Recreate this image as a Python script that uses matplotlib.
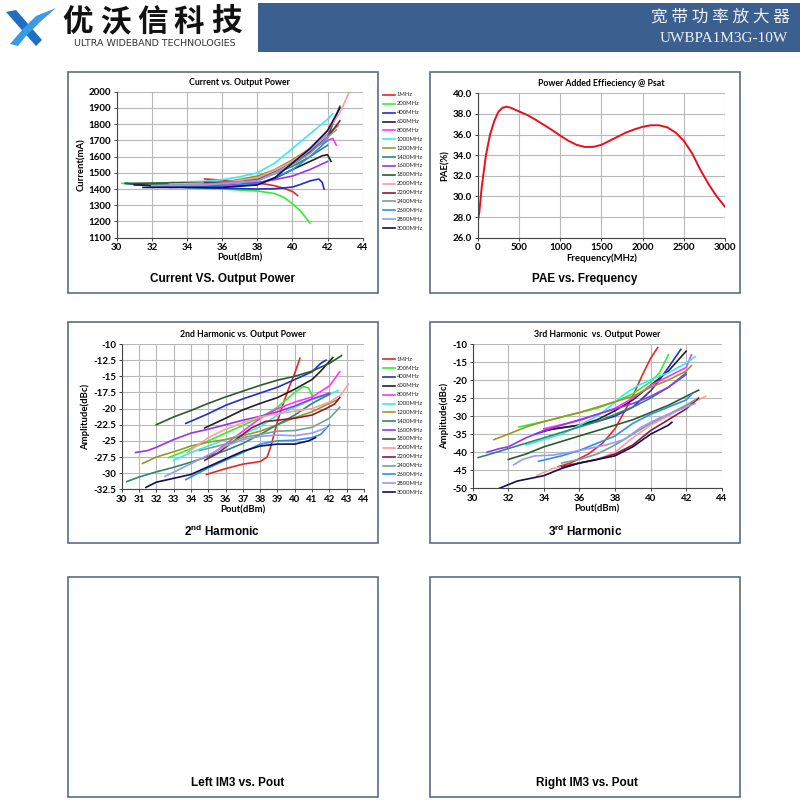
import numpy as np
import matplotlib.pyplot as plt
from matplotlib.patches import Rectangle, Polygon

plt.rcParams['font.family'] = ['Lato', 'DejaVu Sans']

freqs = ['1MHz', '200MHz', '400MHz', '600MHz', '800MHz', '1000MHz', '1200MHz', '1400MHz',
         '1600MHz', '1800MHz', '2000MHz', '2200MHz', '2400MHz', '2600MHz', '2800MHz', '3000MHz']
colors = ['#e8281e', '#33ee33', '#1f2fcc', '#222222', '#ff33ff', '#33eeee', '#999922', '#2a8a6a',
          '#9933ee', '#2d5a2d', '#ff9e9e', '#8b1a3a', '#7a9e95', '#2e8fef', '#9a9af0', '#101050']

# Current vs. Output Power
cur_pout = [
    [35, 36, 37, 38, 38.5, 39, 39.5, 40, 40.3],
    [30.3, 32, 34, 36, 38, 39, 39.5, 40, 40.5, 41],
    [30.5, 32, 34, 36, 38, 39, 40, 40.5, 41, 41.5, 41.7, 41.8],
    [31, 33, 36, 38, 39, 40, 41, 41.7, 42, 42.2],
    [33, 36, 38, 39, 40, 41, 42, 42.3, 42.5],
    [33, 35, 36, 37, 38, 39, 40, 41, 42, 42.3],
    [32, 34, 36, 38, 39, 40, 41, 42, 42.6],
    [32, 34, 36, 38, 39, 40, 41, 42],
    [32, 34, 36, 38, 39, 40, 41, 42],
    [30.5, 33, 36, 38, 39, 40, 41, 42, 42.7],
    [33, 36, 38, 39, 40, 41, 42, 42.7, 43.2],
    [35, 37, 38, 39, 40, 41, 42, 42.7],
    [32, 35, 38, 39, 40, 41, 42, 42.5],
    [33, 35, 38, 39, 40, 41, 42],
    [32, 35, 38, 39, 40, 41, 42],
    [31.5, 33, 36, 38, 39, 40, 41, 42, 42.7],
]
cur_ma = [
    [1462, 1455, 1445, 1435, 1430, 1420, 1405, 1385, 1360],
    [1435, 1422, 1410, 1400, 1388, 1372, 1350, 1310, 1260, 1190],
    [1435, 1420, 1410, 1405, 1400, 1402, 1412, 1430, 1450, 1462, 1440, 1400],
    [1425, 1420, 1415, 1430, 1465, 1520, 1570, 1605, 1612, 1570],
    [1430, 1428, 1455, 1505, 1570, 1640, 1700, 1712, 1670],
    [1440, 1448, 1458, 1475, 1500, 1560, 1650, 1740, 1830, 1865],
    [1430, 1433, 1440, 1480, 1520, 1580, 1650, 1740, 1790],
    [1430, 1430, 1432, 1460, 1495, 1540, 1600, 1670],
    [1420, 1418, 1420, 1440, 1458, 1480, 1520, 1570],
    [1435, 1438, 1440, 1470, 1510, 1560, 1630, 1720, 1910],
    [1430, 1440, 1470, 1515, 1570, 1650, 1760, 1870, 1990],
    [1440, 1442, 1452, 1500, 1560, 1630, 1720, 1820],
    [1420, 1430, 1450, 1495, 1550, 1620, 1720, 1765],
    [1410, 1412, 1430, 1470, 1520, 1600, 1700],
    [1420, 1425, 1450, 1500, 1560, 1640, 1740],
    [1410, 1410, 1410, 1425, 1470, 1560, 1650, 1760, 1900],
]

# PAE @ Psat
pae_freq = [0, 20, 50, 100, 150, 200, 250, 300, 350, 400, 500, 600, 700, 800, 900, 1000, 1100, 1200,
            1300, 1400, 1500, 1600, 1700, 1800, 1900, 2000, 2100, 2200, 2300, 2400, 2500, 2600, 2700,
            2800, 2900, 3000]
pae = [27.5, 28.5, 31.0, 34.0, 36.0, 37.3, 38.2, 38.6, 38.7, 38.6, 38.25, 37.9, 37.45, 36.95, 36.45,
       35.9, 35.4, 35.0, 34.8, 34.8, 35.0, 35.4, 35.8, 36.2, 36.5, 36.75, 36.9, 36.9, 36.7, 36.2,
       35.4, 34.2, 32.6, 31.2, 30.0, 29.0]

# 2nd harmonic
h2_pout = [
    [34.9, 36, 37, 38, 38.4, 38.6, 38.8, 39, 39.3, 39.7, 40, 40.3],
    [32.7, 34, 35, 36, 37, 38, 39, 40, 40.5, 40.8, 41],
    [33.7, 35, 36, 37, 38, 39, 40, 41, 41.5, 41.8],
    [34.8, 36, 37, 38, 39, 40, 41, 41.5, 42.2],
    [35, 36, 37, 38, 39, 40, 41, 42, 42.6],
    [33, 34, 35, 36, 37, 38, 39, 40, 41, 42, 42.5],
    [31.2, 32, 33, 34, 35, 36, 37, 38, 39, 40, 41, 42, 42.5],
    [30.3, 31, 32, 33, 34, 35, 36, 37, 38, 39, 40, 41, 42],
    [30.8, 31.5, 32, 33, 34, 35, 36, 37, 38, 39, 40, 41, 42],
    [32, 33, 34, 35, 36, 37, 38, 39, 40, 41, 42, 42.7],
    [33.8, 35, 36, 37, 38, 39, 40, 41, 42, 42.7, 43.1],
    [34.8, 35.5, 36.5, 37.5, 38.3, 39, 40, 41, 41.8, 42.3, 42.6],
    [34.5, 36, 37, 38, 39, 40, 41, 42, 42.6],
    [33.7, 35, 36, 37, 38, 39, 40, 41, 41.5, 42],
    [32.5, 33.5, 35, 36, 37, 38, 39, 40, 41, 41.8],
    [31.4, 32, 33, 34, 35, 36, 37, 38, 39, 40, 40.8, 41.2],
]
h2_dbc = [
    [-30.2, -29.3, -28.6, -28.2, -27.5, -26, -24, -22, -19.5, -16.5, -14.5, -12.2],
    [-27.6, -26.2, -25, -23.8, -22.6, -21.4, -19.8, -17.5, -16.6, -16.8, -18],
    [-22.3, -20.8, -19.5, -18.5, -17.6, -16.7, -15.5, -14.3, -13, -12.5],
    [-23, -21.5, -20.2, -19.2, -18.3, -17, -15.5, -14.2, -12.1],
    [-27.5, -25.5, -23.5, -21.5, -20, -19, -18.2, -16.5, -14.3],
    [-28, -26.8, -25.8, -24.8, -24, -22.8, -21, -19.8, -18.6, -17.8, -17.2],
    [-28.5, -27.5, -26.7, -25.8, -25.2, -24.8, -24.2, -23.5, -22.5, -21.4, -20.5, -19.2, -18.6],
    [-31.3, -30.6, -29.8, -29.1, -28.3, -27.4, -26.5, -25.4, -24, -22.5, -21, -19.2, -17.8],
    [-26.8, -26.5, -26, -24.8, -23.8, -23.2, -22.5, -21.8, -21.2, -20.5, -19.6, -18.5, -17.6],
    [-22.5, -21.3, -20.3, -19.2, -18.2, -17.3, -16.4, -15.6, -15, -14.2, -13, -11.8],
    [-26.8, -24.5, -23.2, -22.2, -21.3, -20.8, -20.4, -20, -19, -17.8, -16.2],
    [-28, -27, -25, -23, -22, -21.8, -21.5, -21, -20, -19.3, -18.3],
    [-26.5, -25.5, -24.5, -24, -23.5, -23.4, -22.9, -21.5, -19.8],
    [-31, -29.2, -28, -26.8, -25.5, -25, -24.9, -24.5, -24, -22.5],
    [-30.5, -29.2, -27.2, -25.8, -24.8, -24.3, -24.1, -24.2, -23.8, -23],
    [-32.2, -31.4, -30.8, -30.2, -29, -27.8, -26.6, -25.8, -25.5, -25.5, -25, -24.5],
]

# 3rd harmonic
h3_pout = [
    [34.8, 35.5, 36.5, 37.3, 38, 38.5, 39, 39.5, 40, 40.4],
    [32.6, 34, 36, 37, 38, 39, 40, 40.5, 41],
    [33.5, 34.5, 36, 37, 38, 39, 40, 40.5, 41, 41.7],
    [34, 36, 37, 38, 39, 40, 41, 42],
    [34, 36, 38, 39, 40, 41, 42, 42.3],
    [33, 34, 35, 36, 37, 37.8, 38.5, 39.3, 40.2, 41, 42, 42.5],
    [31.2, 32, 33, 34, 36, 38, 39, 40, 41, 42, 42.3],
    [30.3, 31, 32, 33, 34, 35, 36, 37, 38, 39, 40, 41, 42],
    [30.8, 31.5, 32, 33, 34, 35, 36, 37, 38, 39, 40, 41, 42],
    [32, 33, 34, 35, 36, 37, 38, 39, 40, 41, 42, 42.7],
    [33.6, 34.5, 35.5, 37, 38, 39, 40, 41, 42, 43.1],
    [35, 36, 37, 38, 39, 40, 41, 42, 42.7],
    [35, 36, 37, 38, 39, 40, 41, 42, 42.5],
    [33.7, 35, 36, 37, 38, 39, 40, 41, 42, 42.3],
    [32.3, 32.8, 33.5, 34.5, 35.5, 36.5, 37.5, 38.5, 39.5, 40.5, 41.5, 42.5],
    [31.5, 32.5, 34, 35, 36, 37, 38, 39, 40, 41, 41.2],
]
h3_dbc = [
    [-44, -43, -40.5, -37.5, -33.5, -29, -24.5, -19, -14, -11],
    [-33, -31.5, -29, -27.8, -26, -23.8, -20.5, -18, -13],
    [-35, -33.5, -32.5, -31.5, -30, -27.5, -23, -20, -16.5, -11.5],
    [-34, -32.5, -31, -28.5, -25.5, -21.5, -17.5, -12],
    [-33.5, -31.2, -27.8, -25, -21.5, -19, -16.5, -13],
    [-38, -36.5, -35, -32.5, -30, -27, -24, -21.5, -19.5, -18, -15.3, -13.5],
    [-36.5, -35, -33, -31.5, -29, -26, -24.5, -22, -20, -17.5, -16],
    [-41.5, -40.5, -39, -37.5, -36, -34.5, -33, -31.5, -29.5, -27.5, -25, -22, -18.5],
    [-40, -39, -38.5, -36, -34, -32.5, -31, -29.5, -28, -26.5, -24.5, -22, -18],
    [-42, -40.5, -38.5, -37, -35.5, -34, -32.5, -31, -29, -27, -24.5, -22.8],
    [-46.5, -44.5, -43.5, -42, -40, -36, -32.5, -30, -27, -24.5],
    [-44, -43, -42, -40.5, -38, -34, -31, -28, -25],
    [-43, -42, -40.5, -38, -35, -32, -29.5, -27, -25.5],
    [-42.5, -41, -39.5, -37.5, -35.5, -32, -29.5, -27.5, -25.5, -24],
    [-43.5, -42, -41, -40.8, -40, -39, -38, -36.5, -33, -30.5, -28.5, -26.5],
    [-50, -48, -46.5, -44.5, -43, -42, -41, -38.5, -35, -32.5, -31.7],
]

W = H = 800
fig = plt.figure(figsize=(8, 8), dpi=100)


def rect(x0, y0, x1, y1):
    return [x0 / W, 1 - y1 / H, (x1 - x0) / W, (y1 - y0) / H]


# background layer in pixel coordinates
bg = fig.add_axes([0, 0, 1, 1], zorder=0)
bg.set_xlim(0, W)
bg.set_ylim(H, 0)
bg.axis('off')

# header
bg.add_patch(Rectangle((258, 3), 542, 49, facecolor='#3b5f8f', edgecolor='none'))
bg.text(790, 17, '宽 带 功 率 放 大 器', color='#eef2f8', fontsize=12, ha='right', va='center',
        family=['Noto Sans CJK SC', 'DejaVu Sans'])
bg.text(788, 38, 'UWBPA1M3G-10W', color='#eef2f8', fontsize=11, ha='right', va='center',
        family=['Liberation Serif', 'DejaVu Serif'])
# logo
bg.add_patch(Polygon([(6, 12), (16, 10), (42, 40), (36, 46)], closed=True, facecolor='#1f6fc0'))
bg.add_patch(Polygon([(10, 44), (22, 30), (36, 16), (56, 8), (40, 22), (26, 36), (18, 46)],
                     closed=True, facecolor='#3a9ae6'))
for i, ch in enumerate('优沃信科技'):
    bg.text(78 + i * 37, 22, ch, fontsize=22, fontweight='bold', ha='center', va='center',
            color='#111111', family=['Noto Sans CJK SC', 'DejaVu Sans'])
bg.text(155, 44, 'ULTRA WIDEBAND TECHNOLOGIES', fontsize=6.8, ha='center', va='center',
        color='#333333', family=['DejaVu Sans'])

# panel boxes and captions
boxes = [(68, 72, 378, 293), (430, 72, 740, 293), (68, 322, 378, 543), (430, 322, 740, 543),
         (68, 577, 378, 797), (430, 577, 740, 797)]
for x0, y0, x1, y1 in boxes:
    bg.add_patch(Rectangle((x0, y0), x1 - x0, y1 - y0, facecolor='white', edgecolor='#5a6d85', lw=1.2))

cap_font = dict(fontsize=8.5, fontweight='bold', ha='center', va='center', family=['Liberation Sans', 'DejaVu Sans'])
bg.text(222, 279, 'Current VS. Output Power', **cap_font)
bg.text(585, 279, 'PAE vs. Frequency', **cap_font)
bg.text(222, 531, '2$^{\\mathregular{nd}}$ Harmonic', **cap_font)
bg.text(585, 531, '3$^{\\mathregular{rd}}$ Harmonic', **cap_font)
bg.text(238, 783, 'Left IM3 vs. Pout', **cap_font)
bg.text(587, 783, 'Right IM3 vs. Pout', **cap_font)


def legend(y_first, pitch):
    for i, (lab, c) in enumerate(zip(freqs, colors)):
        y = y_first + i * pitch
        bg.plot([383, 395], [y, y], color=c, lw=1.2)
        bg.text(397, y, lab, fontsize=4.2, va='center', ha='left', color='#222222')


legend(95, 8.87)
legend(359.3, 8.85)


def style(ax, title, xlabel, ylabel, xticks, yticks, yfmt='{:g}'):
    ax.set_xlim(xticks[0], xticks[-1])
    ax.set_ylim(yticks[0], yticks[-1])
    ax.set_xticks(xticks)
    ax.set_yticks(yticks)
    ax.set_yticklabels([yfmt.format(v) for v in yticks])
    ax.grid(True, color='#b8b8b8', lw=0.8)
    ax.set_axisbelow(True)
    for s in ['top', 'right']:
        ax.spines[s].set_visible(False)
    for s in ['left', 'bottom']:
        ax.spines[s].set_color('#444444')
        ax.spines[s].set_linewidth(0.8)
    ax.tick_params(labelsize=7, length=2.5, width=0.7, color='#444444', pad=1.5)
    for lab in ax.get_xticklabels() + ax.get_yticklabels():
        lab.set_fontweight('bold')
    ax.set_title(title, fontsize=6.3, fontweight='bold', pad=5)
    ax.set_xlabel(xlabel, fontsize=6.8, fontweight='bold', labelpad=1)
    ax.set_ylabel(ylabel, fontsize=6.8, fontweight='bold', labelpad=2)


ax1 = fig.add_axes(rect(116.7, 91.7, 362.7, 237.7), zorder=2)
for x, y, c in zip(cur_pout, cur_ma, colors):
    ax1.plot(x, y, color=c, lw=1.2)
style(ax1, 'Current vs. Output Power', 'Pout(dBm)', 'Current(mA)',
      list(range(30, 45, 2)), list(range(1100, 2001, 100)))

ax2 = fig.add_axes(rect(477.7, 93.3, 725, 237.7), zorder=2)
ax2.plot(pae_freq, pae, color='#e8101e', lw=1.4)
style(ax2, 'Power Added Effieciency @ Psat', 'Frequency(MHz)', 'PAE(%)',
      list(range(0, 3001, 500)), list(np.arange(26, 40.1, 2)), yfmt='{:.1f}')

ax3 = fig.add_axes(rect(121.7, 344, 364, 489.3), zorder=2)
for x, y, c in zip(h2_pout, h2_dbc, colors):
    ax3.plot(x, y, color=c, lw=1.2)
style(ax3, '2nd Harmonic vs. Output Power', 'Pout(dBm)', 'Amplitude(dBc)',
      list(range(30, 45)), list(np.arange(-32.5, -9.9, 2.5)))

ax4 = fig.add_axes(rect(472.7, 344, 721.7, 488.3), zorder=2)
for x, y, c in zip(h3_pout, h3_dbc, colors):
    ax4.plot(x, y, color=c, lw=1.2)
style(ax4, '3rd Harmonic  vs. Output Power', 'Pout(dBm)', 'Amplitude(dBc)',
      list(range(30, 45, 2)), list(range(-50, -9, 5)))

fig.savefig('out.png', dpi=100)
